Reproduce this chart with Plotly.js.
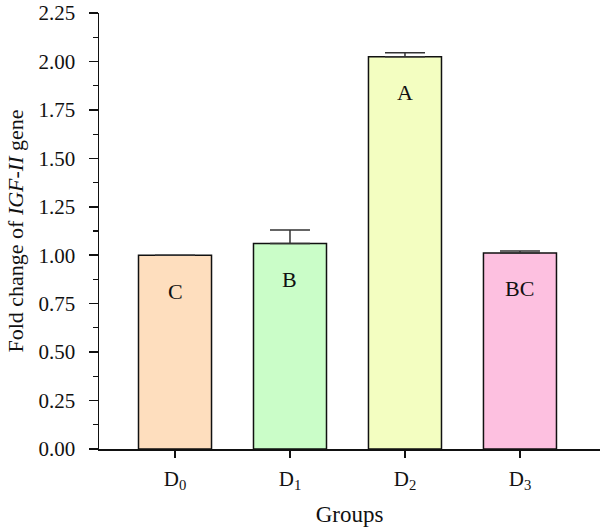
<!DOCTYPE html>
<html>
<head>
<meta charset="utf-8">
<script src="https://cdn.plot.ly/plotly-3.0.1.min.js"></script>
<style>html,body{margin:0;padding:0;background:#fff;}</style>
</head>
<body>
<div id="chart" style="width:600px;height:532px;"></div>
<script>
var categories = ["D0", "D1", "D2", "D3"];
var tickLabels = ["D<sub>0</sub>", "D<sub>1</sub>", "D<sub>2</sub>", "D<sub>3</sub>"];
var foldChange = [1.00, 1.06, 2.025, 1.012];
var errorUp = [0.0, 0.07, 0.02, 0.01];
var letters = ["C", "B", "A", "BC"];
var barColors = ["#FEDEBE", "#CAFDC8", "#F3FEC1", "#FDC0E0"];
var yTickVals = [0, 0.25, 0.5, 0.75, 1.0, 1.25, 1.5, 1.75, 2.0, 2.25];
var yTickText = ["0.00","0.25","0.50","0.75","1.00","1.25","1.50","1.75","2.00","2.25"];
var yMinorVals = [0.125, 0.375, 0.625, 0.875, 1.125, 1.375, 1.625, 1.875, 2.125];

var serif = "Liberation Serif, Times New Roman, serif";

var trace = {
  type: "bar",
  x: categories,
  y: foldChange,
  width: 0.635,
  marker: {color: barColors, line: {color: "#111", width: 1.5}},
  error_y: {type: "data", array: errorUp, arrayminus: [0,0,0,0], symmetric: false,
            color: "#333", thickness: 1.5, width: 20, visible: true},
  hoverinfo: "none"
};

var annotations = categories.map(function(c, i) {
  return {x: c, y: foldChange[i], xref: "x", yref: "y", text: letters[i],
          showarrow: false, yanchor: "middle", yshift: -36,
          font: {family: serif, size: 22, color: "#111"}};
});

var layout = {
  width: 600, height: 532,
  margin: {l: 99, r: 0, t: 13, b: 83},
  paper_bgcolor: "#fff", plot_bgcolor: "#fff",
  showlegend: false,
  font: {family: serif, color: "#111"},
  xaxis: {
    type: "category",
    tickvals: categories, ticktext: tickLabels,
    range: [-0.661, 3.696],
    showline: true, linecolor: "#111", linewidth: 1.5,
    ticks: "outside", ticklen: 7, tickwidth: 1.5, tickcolor: "#111",
    ticklabelstandoff: 3,
    showgrid: false, zeroline: false,
    tickfont: {family: serif, size: 21, color: "#111"},
    title: {text: "Groups", font: {family: serif, size: 23, color: "#111"}, standoff: 14}
  },
  yaxis: {
    range: [0, 2.2502],
    tickvals: yTickVals,
    ticktext: yTickText,
    showline: true, linecolor: "#111", linewidth: 1.5,
    ticks: "outside", ticklen: 9, tickwidth: 1.5, tickcolor: "#111",
    ticklabelstandoff: 9,
    ticklabeloverflow: "allow",
    minor: {tickvals: yMinorVals,
            ticks: "outside", ticklen: 5, tickwidth: 1.2, tickcolor: "#111", showgrid: false},
    showgrid: false, zeroline: false,
    tickfont: {family: serif, size: 21, color: "#111"},
    title: {text: "Fold change of <i>IGF-II</i> gene", font: {family: serif, size: 22, color: "#111"}, standoff: 9}
  },
  annotations: annotations,
  bargap: 0.365
};

Plotly.newPlot("chart", [trace], layout, {staticPlot: true, displayModeBar: false});
</script>
</body>
</html>
